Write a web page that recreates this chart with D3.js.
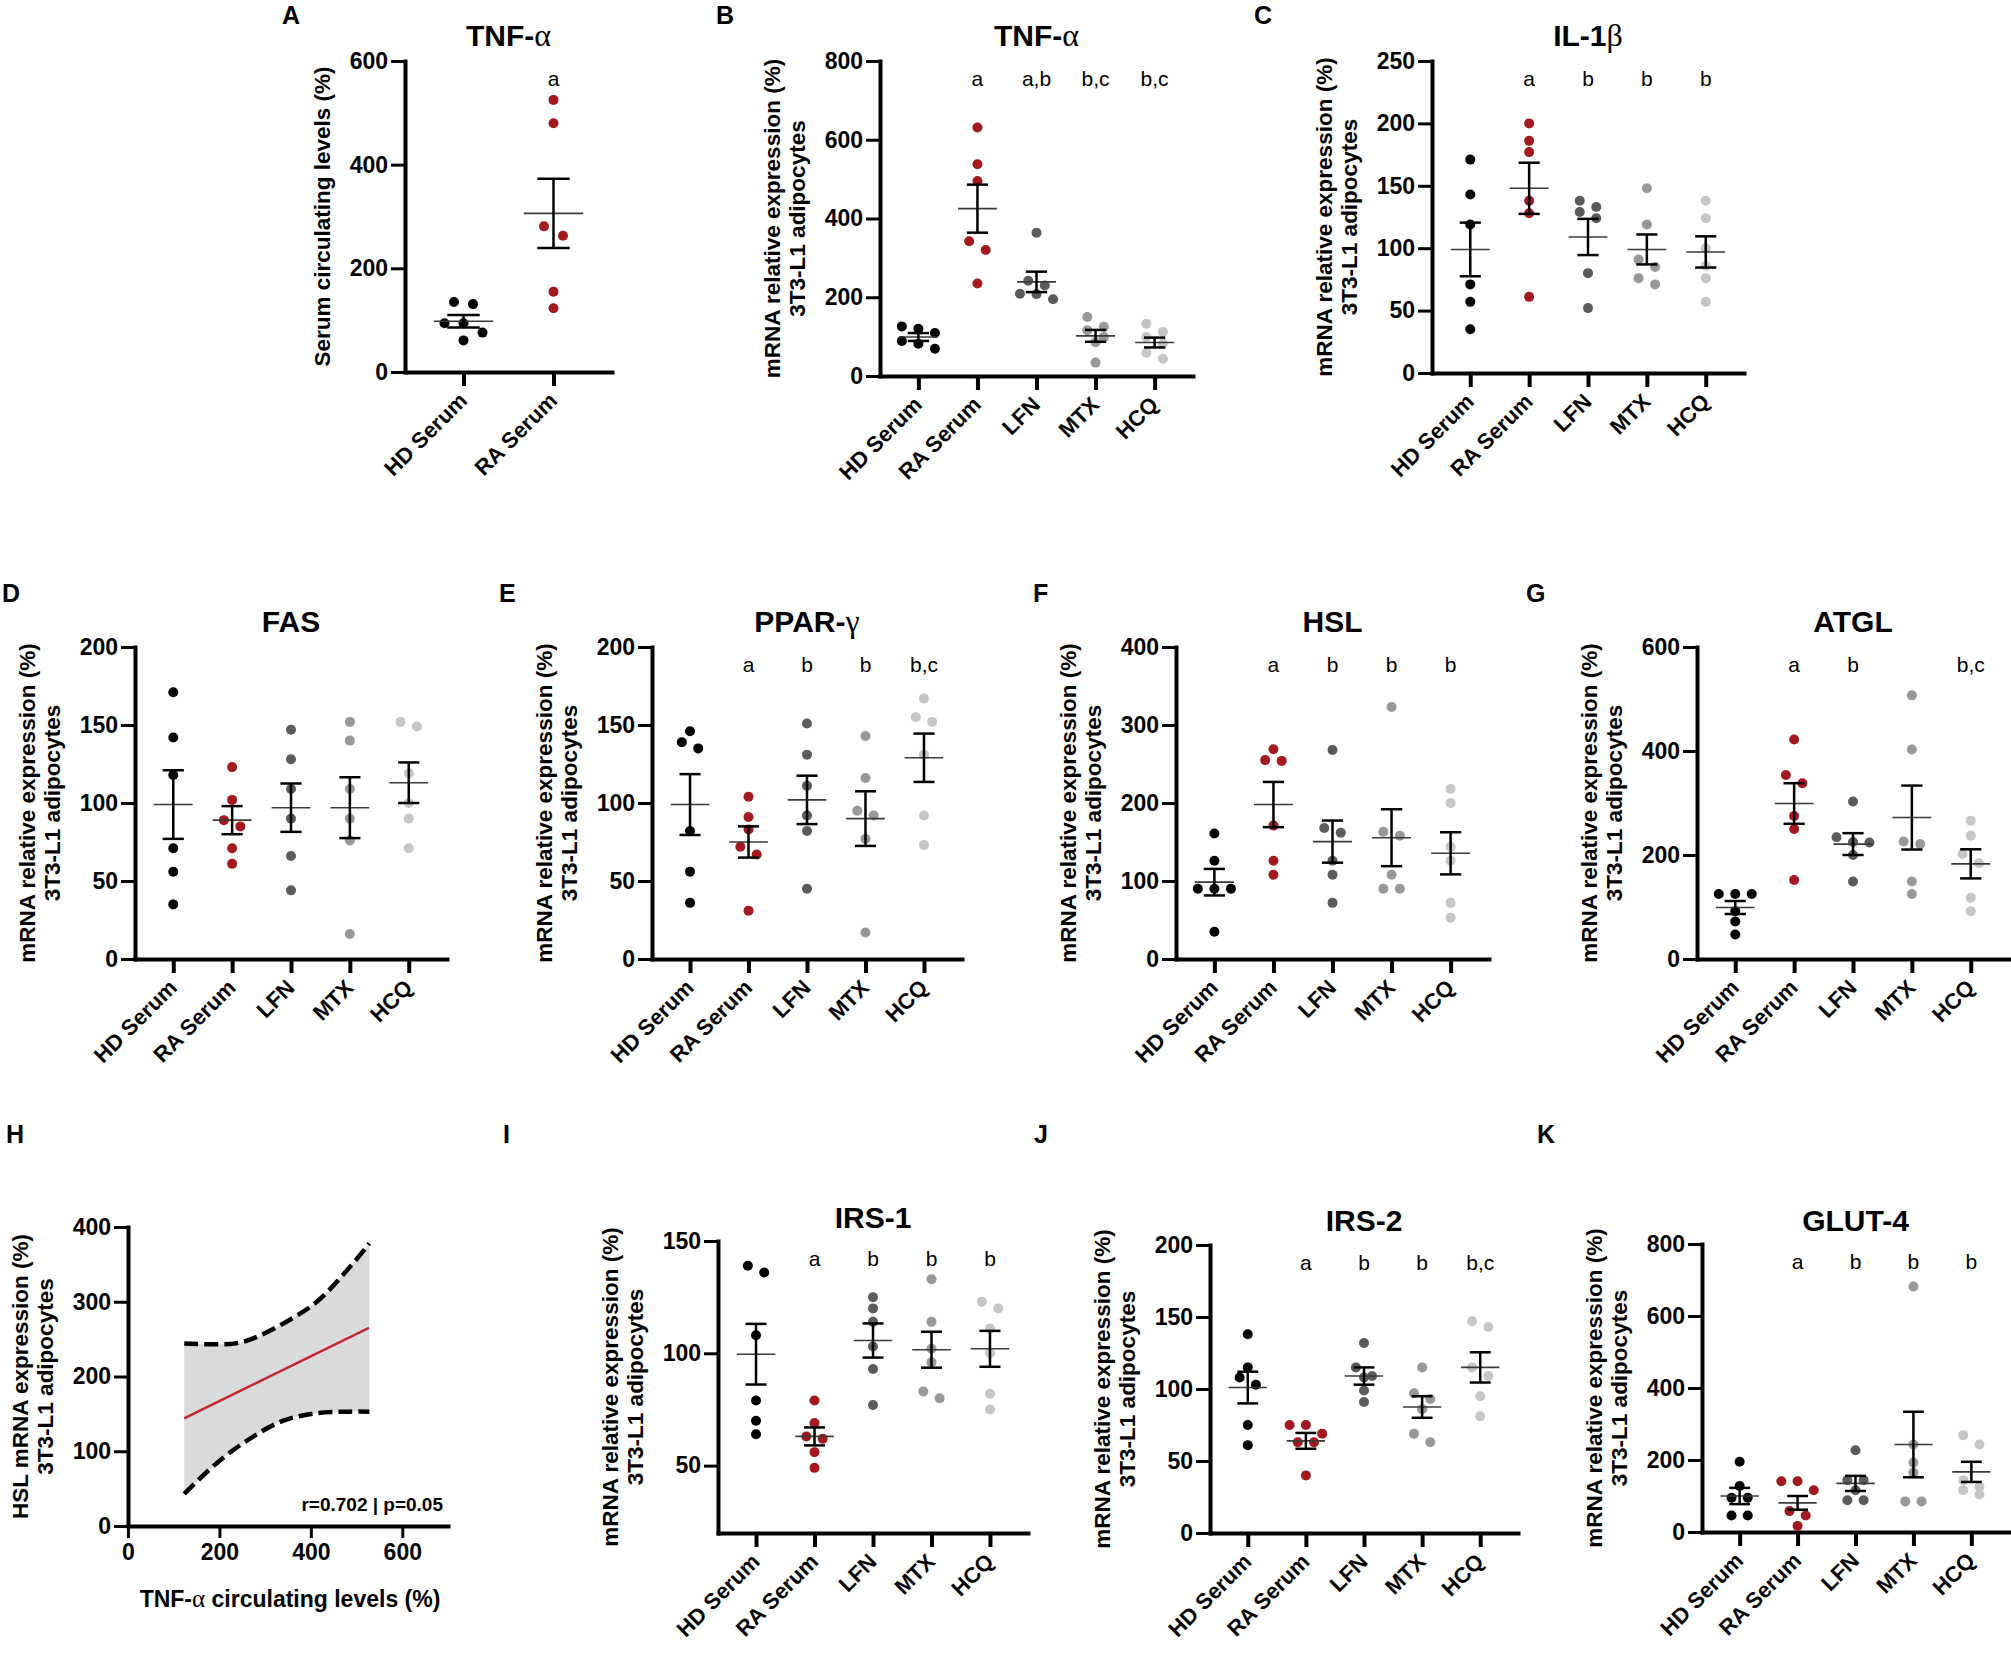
<!DOCTYPE html>
<html lang="en">
<head>
<meta charset="UTF-8">
<title>TNF-α and adipocyte gene expression</title>
<script src="https://d3js.org/d3.v7.min.js"></script>
<style>
    body { margin: 0; background: #fff; }
    svg text { font-family: "Liberation Sans", Arial, sans-serif; fill: #000; }
    .axis path, .axis line { stroke: #000; }
    .axis path { stroke-width: 4px; stroke-linecap: square; }
    .axis line { stroke-width: 3px; }
    .axis text { font-size: 23px; font-weight: bold; font-family: "Liberation Sans", Arial, sans-serif; }
</style>
</head>
<body>
<script>
    // groups
    var groups = ['HD Serum', 'RA Serum', 'LFN', 'MTX', 'HCQ'];
    var serumGroups = ['HD Serum', 'RA Serum'];
    var groupColors = ['#000000', '#a21a20', '#5b5b5b', '#989898', '#c6c6c6'];

    // y tick labels
    var ticks600 = [0, 200, 400, 600];
    var ticks800 = [0, 200, 400, 600, 800];
    var ticks250 = [0, 50, 100, 150, 200, 250];
    var ticks200 = [0, 50, 100, 150, 200];
    var ticks400 = [0, 100, 200, 300, 400];
    var ticks150 = [50, 100, 150];

    // A - TNF-a serum
    var tnfSerum = [[135, 131, 94, 94, 76, 61], [525, 480, 281, 263, 155, 123]];
    var tnfSerumMean = [98, 306];
    var tnfSerumSem = [12, 67];
    var tnfSerumLetters = ['', 'a'];

    // B - TNF-a mRNA
    var tnfMrna = [[126, 120, 109, 89, 82, 69], [631, 538, 495, 342, 320, 235], [364, 242, 230, 209, 208, 195],
                   [150, 125, 116, 99, 86, 34], [133, 112, 99, 82, 59, 44]];
    var tnfMrnaMean = [99, 425, 239, 102, 85];
    var tnfMrnaSem = [10, 61, 26, 15, 12.5];
    var tnfMrnaLetters = ['', 'a', 'a,b', 'b,c', 'b,c'];

    // C - IL-1b
    var il1b = [[171, 143, 119, 71, 57, 35], [200, 186, 177, 138, 128, 61], [138, 133, 129, 124, 80, 52],
                [148, 119, 91, 85, 76, 71], [138, 124, 100, 86, 76, 57]];
    var il1bMean = [99, 148, 109, 99, 97];
    var il1bSem = [21.5, 20.5, 14.5, 12, 12.5];
    var il1bLetters = ['', 'a', 'b', 'b', 'b'];

    // D - FAS
    var fas = [[171, 142, 118, 71, 56, 35], [123, 102, 89, 85, 71, 61], [147, 128, 109, 90, 66, 44],
               [152, 140, 109, 90, 76, 16], [152, 149, 119, 100, 90, 71]];
    var fasMean = [99, 89, 97, 97, 113];
    var fasSem = [22, 9, 15.5, 19.5, 13];
    var fasLetters = ['', '', '', '', ''];

    // E - PPAR-g
    var pparg = [[146, 139, 135, 82, 56, 36], [104, 91, 83, 72, 67, 31], [151, 131, 111, 92, 82, 45],
                 [143, 116, 95, 92, 77, 17], [167, 155, 152, 131, 92, 73]];
    var ppargMean = [99, 75, 102, 90, 129];
    var ppargSem = [19.5, 10, 15.5, 17.5, 15.5];
    var ppargLetters = ['', 'a', 'b', 'b', 'b,c'];

    // F - HSL
    var hsl = [[161, 126, 90, 90, 90, 35], [269, 255, 254, 171, 126, 108], [268, 168, 162, 126, 108, 72],
               [323, 163, 158, 108, 90, 90], [218, 200, 144, 126, 72, 53]];
    var hslMean = [98.5, 198, 150.5, 155.5, 135.5];
    var hslSem = [17, 29, 27, 36.5, 27];
    var hslLetters = ['', 'a', 'b', 'b', 'b'];

    // G - ATGL
    var atgl = [[125, 125, 125, 92, 72, 47], [422, 354, 338, 275, 250, 152], [303, 234, 225, 224, 200, 149],
                [507, 403, 226, 221, 149, 125], [266, 237, 202, 184, 118, 92]];
    var atglMean = [99, 299, 221, 272, 183];
    var atglSem = [12.5, 39, 21, 61.5, 28];
    var atglLetters = ['', 'a', 'b', '', 'b,c'];

    // H - correlation HSL vs serum TNF-a
    var hslFitX = [123, 527];
    var hslFitY = [144, 265];
    var hslUpperX = [123, 231, 274, 340, 413, 486, 528];
    var hslUpperY = [244, 244, 251, 271, 300, 347, 378];
    var hslLowerX = [123, 194, 267, 340, 413, 486, 528];
    var hslLowerY = [43, 84, 117, 141, 151, 153, 153];
    var corrXTicks = [0, 200, 400, 600];
    var corrYTicks = [0, 100, 200, 300, 400];

    // I - IRS-1
    var irs1 = [[139, 136, 108, 79, 70, 64], [79, 69, 63, 62, 56, 49], [125, 120, 114, 103, 93, 77],
                [133, 114, 102, 96, 83, 80], [123, 120, 111, 100, 82, 75]];
    var irs1Mean = [99.6, 63, 105.7, 101.6, 102];
    var irs1Sem = [13.5, 4, 7.6, 8, 8];
    var irs1Letters = ['', 'a', 'b', 'b', 'b'];

    // J - IRS-2
    var irs2 = [[138, 115, 108, 103, 75, 61], [75, 75, 69, 63, 63, 40], [132, 115, 109, 108, 99, 91],
                [115, 97, 93, 86, 69, 63], [147, 143, 115, 109, 95, 81]];
    var irs2Mean = [101, 64, 109, 87.5, 115];
    var irs2Sem = [11, 5.5, 6, 7.5, 10.5];
    var irs2Letters = ['', 'a', 'b', 'b', 'b,c'];

    // K - GLUT-4
    var glut4 = [[195, 128, 95, 95, 46, 46], [141, 141, 116, 58, 46, 17], [227, 144, 144, 116, 88, 88],
                 [682, 243, 193, 165, 85, 85], [269, 243, 144, 125, 116, 104]];
    var glut4Mean = [100, 81, 135, 243, 167];
    var glut4Sem = [22.5, 19, 21, 91, 28];
    var glut4Letters = ['', 'a', 'b', 'b', 'b'];

    var mrnaLabel = ['mRNA relative expression (%)', '3T3-L1 adipocytes'];

    var svg = d3.select('body')
        .append('svg')
        .attr('width', 2011)
        .attr('height', 1672)
        .style('background', '#fff');

    function panelLetter(txt, x, y) {
        svg.append('text')
            .attr('x', x)
            .attr('y', y)
            .style('font-size', '25px')
            .style('font-weight', 'bold')
            .text(txt);
    }

    // title, with greek letter in a serif tspan
    function addTitle(g, x, y, parts) {
        var t = g.append('text')
            .attr('x', x)
            .attr('y', y)
            .attr('text-anchor', 'middle')
            .style('font-size', '30px')
            .style('font-weight', 'bold');
        t.append('tspan').text(parts[0]);
        if (parts[1]) {
            t.append('tspan')
                .style('font-family', '"Liberation Serif", "DejaVu Serif", serif')
                .style('font-weight', 'normal')
                .style('font-size', '32px')
                .text(parts[1]);
        }
    }

    function addYLabel(g, x0, midY, lines) {
        var offs = lines.length === 1 ? [-83] : [-108, -83];
        lines.forEach(function (l, i) {
            g.append('text')
                .attr('transform', 'translate(' + (x0 + offs[i] + 8) + ',' + midY + ') rotate(-90)')
                .attr('text-anchor', 'middle')
                .style('font-size', '22.5px')
                .style('font-weight', 'bold')
                .text(l);
        });
    }

    // simple scatter layout: points close in y share a row, spread horizontally
    function swarm(vals, y, gap) {
        var pts = vals.map(function (v) { return {v: v, py: y(v)}; })
            .sort(function (a, b) { return a.py - b.py; });
        var rows = [], cur = null;
        pts.forEach(function (p) {
            if (cur && p.py - cur[0].py < 10) cur.push(p);
            else { cur = [p]; rows.push(cur); }
        });
        rows.forEach(function (row) {
            row.forEach(function (p, i) { p.dx = (i - (row.length - 1) / 2) * gap; });
        });
        return pts;
    }

    function dotPanel(p) {
        var g = svg.append('g');
        var y = d3.scaleLinear().domain(p.domain).range([p.y1, p.y0]);
        var x = d3.scalePoint().domain(p.cats).range([p.x0, p.x1]).padding(0.65);
        var step = x.step();

        g.append('g')
            .attr('class', 'axis')
            .attr('transform', 'translate(' + p.x0 + ',0)')
            .call(d3.axisLeft(y).tickValues(p.ticks).tickSize(14).tickSizeOuter(0)
                .tickPadding(3).tickFormat(d3.format('d')));

        g.append('g')
            .attr('class', 'axis')
            .attr('transform', 'translate(0,' + p.y1 + ')')
            .call(d3.axisBottom(x).tickSize(14).tickSizeOuter(0).tickFormat(''))
            .selectAll('.tick line').style('stroke-width', '4px');

        g.selectAll('.cat')
            .data(p.cats)
            .enter()
            .append('text')
            .attr('transform', function (d) {
                return 'translate(' + (x(d) + 5) + ',' + (p.y1 + 30) + ') rotate(-45)';
            })
            .attr('text-anchor', 'end')
            .style('font-size', '22px')
            .style('font-weight', 'bold')
            .text(function (d) { return d; });

        var gap = Math.min(19, step * 0.28);
        p.values.forEach(function (vals, i) {
            var cx = x(p.cats[i]);
            g.selectAll(null)
                .data(swarm(vals, y, gap))
                .enter()
                .append('circle')
                .attr('cx', function (d) { return cx + d.dx; })
                .attr('cy', function (d) { return d.py; })
                .attr('r', 5)
                .attr('fill', groupColors[i]);
        });

        p.cats.forEach(function (c, i) {
            var cx = x(c), m = p.mean[i], s = p.sem[i];
            var half = step * 0.33, cap = step * 0.18;
            g.append('line')
                .attr('x1', cx - half).attr('x2', cx + half)
                .attr('y1', y(m)).attr('y2', y(m))
                .attr('stroke', '#3a3a3a').attr('stroke-width', 1.6);
            g.append('line')
                .attr('x1', cx).attr('x2', cx)
                .attr('y1', y(m - s)).attr('y2', y(m + s))
                .attr('stroke', '#000').attr('stroke-width', 2.5);
            [m - s, m + s].forEach(function (v) {
                g.append('line')
                    .attr('x1', cx - cap).attr('x2', cx + cap)
                    .attr('y1', y(v)).attr('y2', y(v))
                    .attr('stroke', '#000').attr('stroke-width', 2.5);
            });
            if (p.letters[i]) {
                g.append('text')
                    .attr('x', cx)
                    .attr('y', p.y0 + 25)
                    .attr('text-anchor', 'middle')
                    .style('font-size', '21px')
                    .text(p.letters[i]);
            }
        });

        var mid = (x(p.cats[0]) + x(p.cats[p.cats.length - 1])) / 2;
        addTitle(g, mid, p.titleY, p.title);
        addYLabel(g, p.x0, (p.y0 + p.y1) / 2, p.ylabel);
    }

    var panels = [
        {cats: serumGroups, values: tnfSerum, mean: tnfSerumMean, sem: tnfSerumSem, letters: tnfSerumLetters,
            domain: [0, 600], ticks: ticks600, title: ['TNF-', 'α'], ylabel: ['Serum circulating levels (%)'],
            x0: 405, x1: 612, y0: 61, y1: 372, titleY: 46},
        {cats: groups, values: tnfMrna, mean: tnfMrnaMean, sem: tnfMrnaSem, letters: tnfMrnaLetters,
            domain: [0, 800], ticks: ticks800, title: ['TNF-', 'α'], ylabel: mrnaLabel,
            x0: 880, x1: 1193, y0: 61, y1: 376, titleY: 46},
        {cats: groups, values: il1b, mean: il1bMean, sem: il1bSem, letters: il1bLetters,
            domain: [0, 250], ticks: ticks250, title: ['IL-1', 'β'], ylabel: mrnaLabel,
            x0: 1432, x1: 1744, y0: 61, y1: 373, titleY: 46},
        {cats: groups, values: fas, mean: fasMean, sem: fasSem, letters: fasLetters,
            domain: [0, 200], ticks: ticks200, title: ['FAS'], ylabel: mrnaLabel,
            x0: 135, x1: 447, y0: 647, y1: 959, titleY: 632},
        {cats: groups, values: pparg, mean: ppargMean, sem: ppargSem, letters: ppargLetters,
            domain: [0, 200], ticks: ticks200, title: ['PPAR-', 'γ'], ylabel: mrnaLabel,
            x0: 652, x1: 962, y0: 647, y1: 959, titleY: 632},
        {cats: groups, values: hsl, mean: hslMean, sem: hslSem, letters: hslLetters,
            domain: [0, 400], ticks: ticks400, title: ['HSL'], ylabel: mrnaLabel,
            x0: 1176, x1: 1489, y0: 647, y1: 959, titleY: 632},
        {cats: groups, values: atgl, mean: atglMean, sem: atglSem, letters: atglLetters,
            domain: [0, 600], ticks: ticks600, title: ['ATGL'], ylabel: mrnaLabel,
            x0: 1697, x1: 2009, y0: 647, y1: 959, titleY: 632},
        {cats: groups, values: irs1, mean: irs1Mean, sem: irs1Sem, letters: irs1Letters,
            domain: [20, 150], ticks: ticks150, title: ['IRS-1'], ylabel: mrnaLabel,
            x0: 718, x1: 1028, y0: 1241, y1: 1533, titleY: 1228},
        {cats: groups, values: irs2, mean: irs2Mean, sem: irs2Sem, letters: irs2Letters,
            domain: [0, 200], ticks: ticks200, title: ['IRS-2'], ylabel: mrnaLabel,
            x0: 1210, x1: 1518, y0: 1245, y1: 1533, titleY: 1231},
        {cats: groups, values: glut4, mean: glut4Mean, sem: glut4Sem, letters: glut4Letters,
            domain: [0, 800], ticks: ticks800, title: ['GLUT-4'], ylabel: mrnaLabel,
            x0: 1702, x1: 2009, y0: 1244, y1: 1532, titleY: 1231}
    ];

    panels.forEach(dotPanel);

    // H: correlation panel
    (function () {
        var g = svg.append('g');
        var x = d3.scaleLinear().domain([0, 700]).range([128, 448]);
        var y = d3.scaleLinear().domain([0, 400]).range([1526, 1227]);

        var up = hslUpperX.map(function (d, i) { return [x(d), y(hslUpperY[i])]; });
        var lo = hslLowerX.map(function (d, i) { return [x(d), y(hslLowerY[i])]; });
        var line = d3.line().curve(d3.curveCatmullRom);
        var loRev = line(lo.slice().reverse());
        g.append('path')
            .attr('d', line(up) + 'L' + loRev.slice(1) + 'Z')
            .attr('fill', '#dadada');

        g.append('line')
            .attr('x1', x(hslFitX[0])).attr('x2', x(hslFitX[1]))
            .attr('y1', y(hslFitY[0])).attr('y2', y(hslFitY[1]))
            .attr('stroke', '#c1272d').attr('stroke-width', 2.5);

        [up, lo].forEach(function (pts) {
            g.append('path')
                .attr('d', line(pts))
                .attr('fill', 'none')
                .attr('stroke', '#000')
                .attr('stroke-width', 4.5)
                .attr('stroke-dasharray', '14,6');
        });

        g.append('g')
            .attr('class', 'axis')
            .attr('transform', 'translate(128,0)')
            .call(d3.axisLeft(y).tickValues(corrYTicks).tickSize(14).tickSizeOuter(0).tickPadding(3));

        g.append('g')
            .attr('class', 'axis')
            .attr('transform', 'translate(0,1526)')
            .call(d3.axisBottom(x).tickValues(corrXTicks).tickSize(12).tickSizeOuter(0).tickPadding(6));

        g.append('text')
            .attr('x', 443).attr('y', 1511)
            .attr('text-anchor', 'end')
            .style('font-size', '19px').style('font-weight', 'bold')
            .text('r=0.702 | p=0.05');

        var xl = g.append('text')
            .attr('x', 290).attr('y', 1607)
            .attr('text-anchor', 'middle')
            .style('font-size', '23px').style('font-weight', 'bold');
        xl.append('tspan').text('TNF-');
        xl.append('tspan')
            .style('font-family', '"Liberation Serif", serif')
            .style('font-weight', 'normal')
            .style('font-size', '25px')
            .text('α');
        xl.append('tspan').text(' circulating levels (%)');

        addYLabel(g, 128, (1227 + 1526) / 2, ['HSL mRNA expression (%)', '3T3-L1 adipocytes']);
    })();

    panelLetter('A', 282, 24);
    panelLetter('B', 716, 24);
    panelLetter('C', 1254, 24);
    panelLetter('D', 2, 602);
    panelLetter('E', 499, 602);
    panelLetter('F', 1033, 602);
    panelLetter('G', 1526, 602);
    panelLetter('H', 6, 1143);
    panelLetter('I', 503, 1143);
    panelLetter('J', 1034, 1143);
    panelLetter('K', 1537, 1143);
</script>
</body>
</html>
